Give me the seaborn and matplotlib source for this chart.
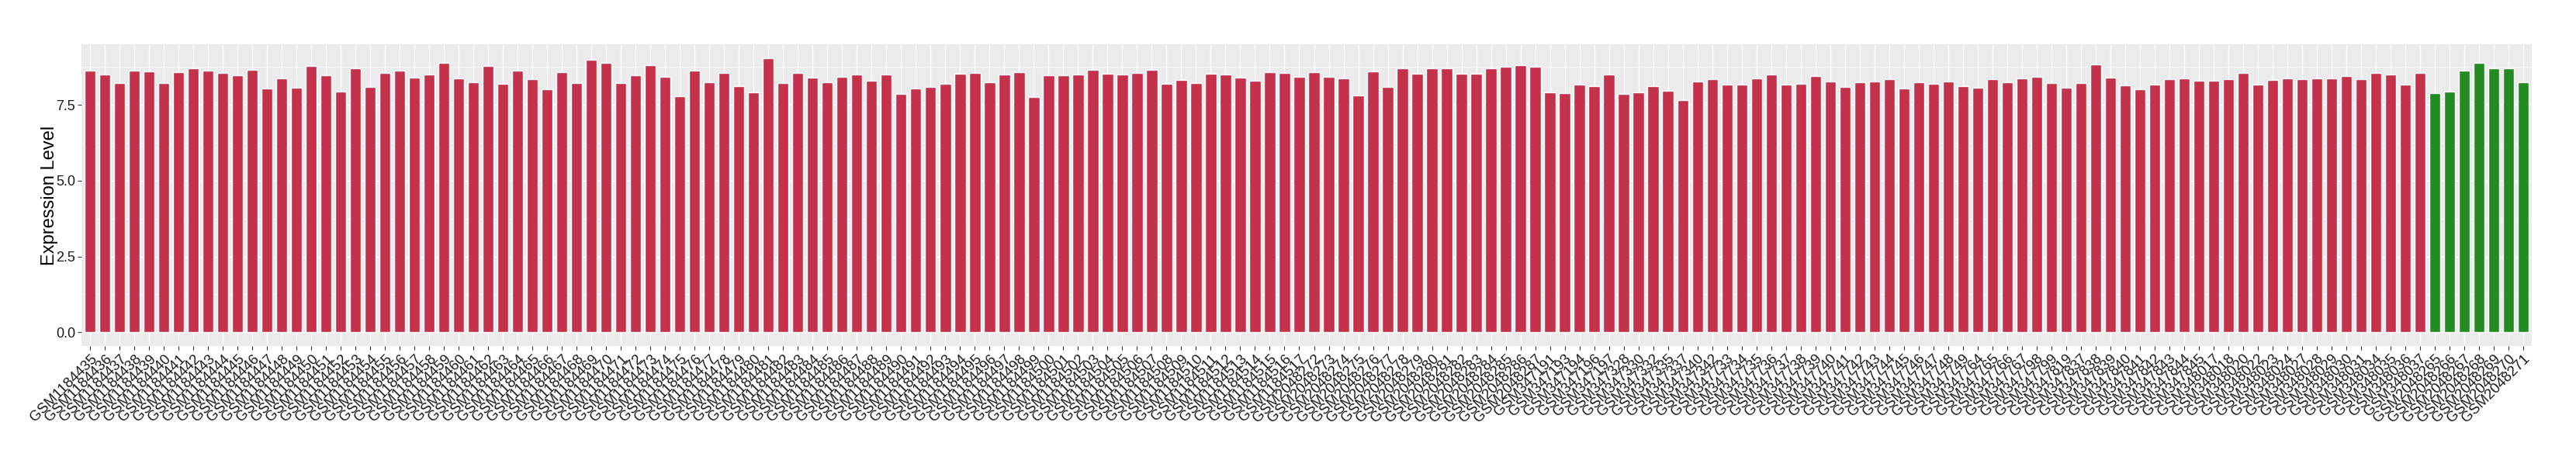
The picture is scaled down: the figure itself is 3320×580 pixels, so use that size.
import numpy as np
import pandas as pd
import matplotlib
matplotlib.use("Agg")
import matplotlib.pyplot as plt
import seaborn as sns

# ---------------- data ----------------
samples_a = ["GSM%d" % n for n in range(1184435, 1184518)]
samples_b = ["GSM%d" % n for n in range(2048272, 2048288)]
samples_c = ["GSM347191", "GSM347193", "GSM347194", "GSM347196", "GSM347197",
             "GSM347328", "GSM347330", "GSM347332", "GSM347335", "GSM347337",
             "GSM347340", "GSM347342"] + ["GSM%d" % n for n in range(347733, 347750)] + \
            ["GSM347764", "GSM347765", "GSM347766", "GSM347767", "GSM347798",
             "GSM347799", "GSM347819"] + ["GSM%d" % n for n in range(347837, 347846)] + \
            ["GSM348017", "GSM348018", "GSM348020", "GSM348022", "GSM348023",
             "GSM348024", "GSM348027", "GSM348028", "GSM348029", "GSM348030",
             "GSM348031", "GSM348034", "GSM348035", "GSM348036", "GSM348037"]
samples_normal = ["GSM%d" % n for n in range(2048265, 2048272)]

values_a = [8.62, 8.50, 8.22, 8.62, 8.60, 8.22, 8.57, 8.70, 8.62, 8.55,
            8.47, 8.65, 8.04, 8.37, 8.07, 8.78, 8.47, 7.94, 8.72, 8.09,
            8.55, 8.62, 8.40, 8.50, 8.88, 8.37, 8.24, 8.78, 8.19, 8.62,
            8.34, 8.02, 8.57, 8.22, 9.00, 8.90, 8.22, 8.47, 8.80, 8.42,
            7.79, 8.62, 8.24, 8.55, 8.12, 7.91, 9.05, 8.22, 8.55, 8.40,
            8.24, 8.42, 8.50, 8.29, 8.50, 7.86, 8.04, 8.09, 8.19, 8.52,
            8.55, 8.24, 8.50, 8.57, 7.76, 8.47, 8.47, 8.50, 8.65, 8.52,
            8.50, 8.55, 8.65, 8.19, 8.32, 8.22, 8.52, 8.50, 8.40, 8.29,
            8.57, 8.55, 8.42]
values_b = [8.57, 8.42, 8.37, 7.81, 8.60, 8.09, 8.70, 8.52, 8.72, 8.70,
            8.52, 8.52, 8.70, 8.75, 8.80, 8.75]
values_c = [7.91, 7.89, 8.17, 8.12, 8.50, 7.86, 7.91, 8.12, 7.96, 7.66,
            8.27, 8.34, 8.17, 8.17, 8.37, 8.50, 8.17, 8.19, 8.45, 8.27,
            8.09, 8.24, 8.27, 8.34, 8.04, 8.24, 8.19, 8.27, 8.12, 8.07,
            8.34, 8.24, 8.37, 8.42, 8.22, 8.07, 8.22, 8.83, 8.40, 8.14,
            8.01, 8.17, 8.34, 8.37, 8.29, 8.29, 8.34, 8.55, 8.17, 8.32,
            8.37, 8.34, 8.37, 8.37, 8.45, 8.34, 8.55, 8.50, 8.17, 8.55]
values_normal = [7.89, 7.94, 8.62, 8.90, 8.70, 8.70, 8.24]

group_names = ["Tumor", "Normal"]
group_colors = {"Tumor": "#C3324A", "Normal": "#228B22"}
y_ticks = [0.0, 2.5, 5.0, 7.5]
y_title = "Expression Level"

samples = samples_a + samples_b + samples_c + samples_normal
values = values_a + values_b + values_c + values_normal
groups = ["Tumor"] * (len(samples) - len(samples_normal)) + ["Normal"] * len(samples_normal)

df = pd.DataFrame({"sample": samples, "value": values, "group": groups})

# ---------------- plot ----------------
sns.set_theme(style="white")
plt.rcParams["font.family"] = ["Liberation Sans", "DejaVu Sans"]

DPI = 100
fig = plt.figure(figsize=(3320 / DPI, 580 / DPI), dpi=DPI)
ax = fig.add_axes([105 / 3320, (580 - 446) / 580, (3263 - 105) / 3320, (446 - 57) / 580])
ax.set_facecolor("#EBEBEB")

sns.barplot(data=df, x="sample", y="value", hue="group", order=samples,
            hue_order=group_names, palette=group_colors, dodge=False,
            width=0.74, saturation=1, legend=False, ax=ax, zorder=3)

n = len(samples)
vmax = max(values)
ax.set_xlim(-0.6, n - 1 + 0.6)
ax.set_ylim(-0.05 * vmax, 1.05 * vmax)

# gridlines
ax.set_yticks(y_ticks)
ax.set_yticks([1.25, 3.75, 6.25, 8.75], minor=True)
ax.grid(True, which="major", color="white", linewidth=1.0, zorder=0)
ax.grid(True, which="minor", axis="y", color="white", linewidth=0.5, zorder=0)
ax.set_axisbelow(True)

for s in ax.spines.values():
    s.set_visible(False)

ax.set_yticklabels([f"{t:.1f}" for t in y_ticks])
ax.tick_params(axis="y", which="major", length=3.5, width=0.8, color="#333333",
               labelsize=13, labelcolor="#1A1A1A", pad=2, left=True)
ax.tick_params(axis="y", which="minor", length=0, left=False)
ax.tick_params(axis="x", which="major", length=3.5, width=0.8, color="#333333",
               labelsize=13.5, labelcolor="#1A1A1A", pad=2, bottom=True)
plt.setp(ax.get_xticklabels(), rotation=45, ha="right", va="top",
         rotation_mode="anchor")

ax.set_xlabel("")
ax.set_ylabel(y_title, fontsize=17, color="black", labelpad=-2)

fig.savefig("out.png", dpi=DPI, facecolor="white")
